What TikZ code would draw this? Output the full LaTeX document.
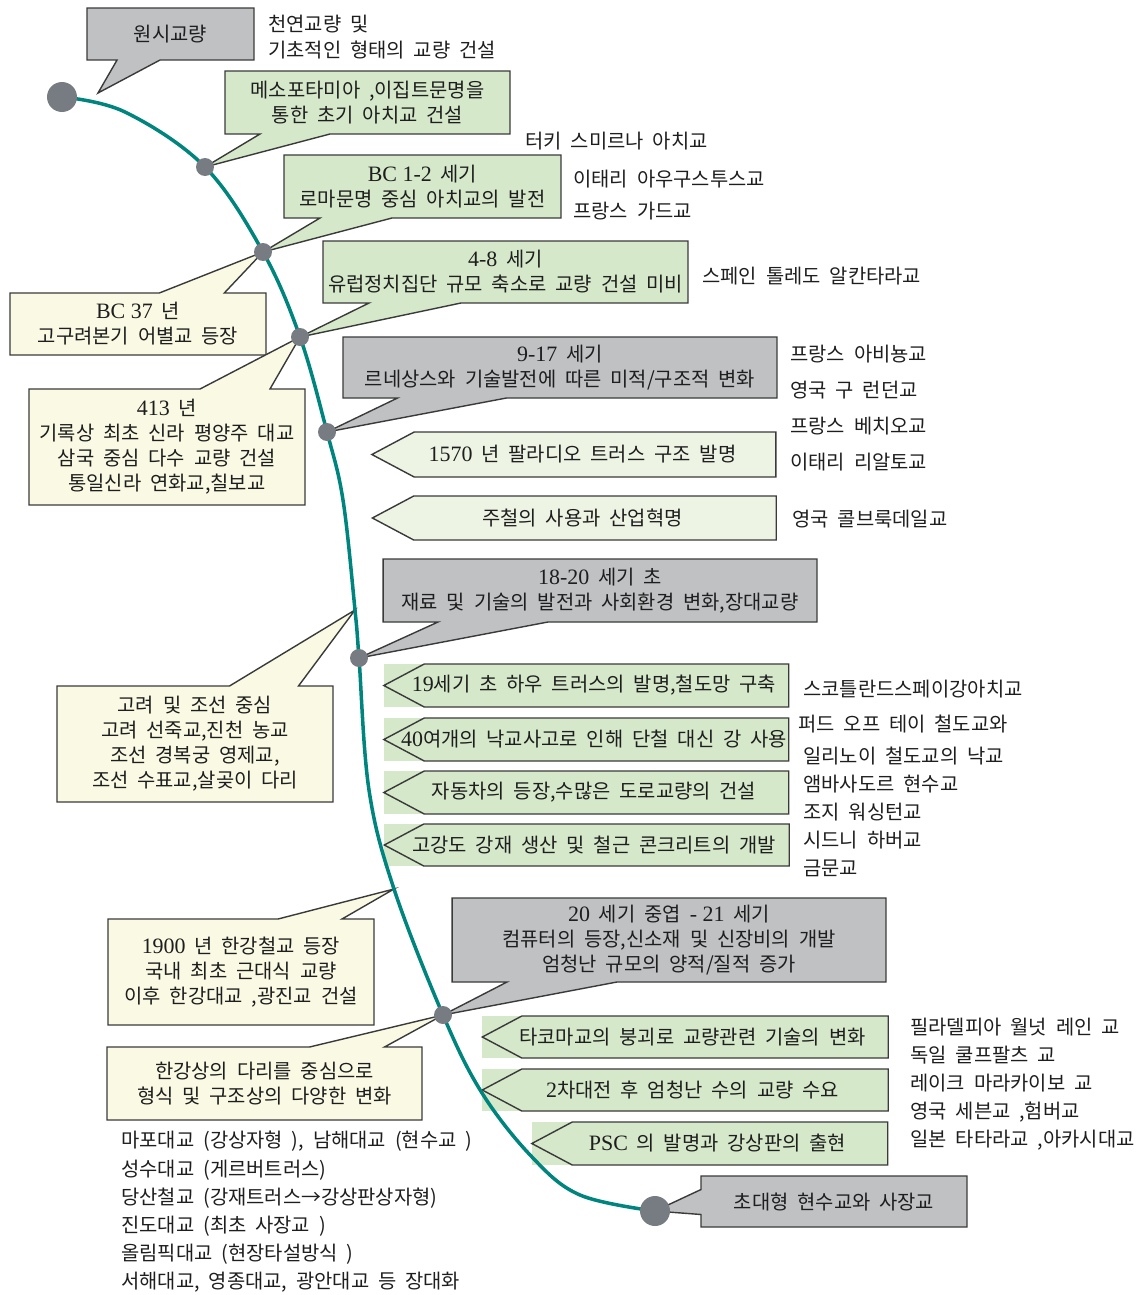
\documentclass[tikz,border=0pt]{standalone}
\usepackage{fontspec}
\setmainfont{Noto Sans CJK KR}[WordSpace=2]
\newfontfamily\latin{Liberation Serif}
\usetikzlibrary{shapes.callouts,shapes.symbols}

\definecolor{tealline}{HTML}{00847E}
\definecolor{dotgray}{HTML}{777C82}
\definecolor{boxgray}{HTML}{BFC1C3}
\definecolor{boxgreen}{HTML}{D5E8CA}
\definecolor{palegreen}{HTML}{EEF4E4}
\definecolor{boxyellow}{HTML}{FAFAE4}
\definecolor{edge}{HTML}{3A3A3A}
\definecolor{ink}{HTML}{1E1E1E}

\newcommand\latn[1]{{\latin\fontsize{12.5}{14.2}\selectfont #1}}
\newcommand\ztext[1]{\makebox[0pt]{\hspace*{-0.5cm}#1}}

\tikzset{
  every node/.style={text=ink, font=\fontsize{11.3}{14.2}\selectfont},
  callbox/.style={rectangle callout, draw=edge, line width=0.8pt, align=center, inner sep=0pt},
  graybox/.style={callbox, fill=boxgray},
  greenbox/.style={callbox, fill=boxgreen},
  yellowbox/.style={callbox, fill=boxyellow},
  banner/.style={signal, signal to=west, signal pointer angle=56, draw=edge, line width=0.8pt, inner sep=0pt},
  strip/.style={rectangle, fill=boxgreen, inner sep=0pt},
  note/.style={anchor=north west, align=left, inner sep=0pt},
  bigdot/.style={circle, fill=dotgray, minimum size=0.6cm, inner sep=0pt},
  smalldot/.style={circle, fill=dotgray, minimum size=0.36cm, inner sep=0pt},
  timeline/.style={draw=tealline, line width=2pt}
}

\begin{document}
\begin{tikzpicture}[x=0.02cm, y=-0.02cm]
    \useasboundingbox (0,0) rectangle (1136,1295);

    % points on the time line
    \coordinate (c0) at (62,97);
    \coordinate (c0a) at (125,112);
    \coordinate (c1) at (205,167);
    \coordinate (c2) at (263,252);
    \coordinate (c3) at (300,337);
    \coordinate (c4) at (327,432);
    \coordinate (c4a) at (343,500);
    \coordinate (c5) at (355,610);
    \coordinate (c6) at (359,658);
    \coordinate (c6a) at (369,790);
    \coordinate (c7) at (394,889);
    \coordinate (c8) at (443,1015);
    \coordinate (c9) at (482,1093);
    \coordinate (c10) at (532,1157);
    \coordinate (c11) at (580,1195);
    \coordinate (c12) at (655,1211);
    \coordinate (p0) at (98,93);

    % callouts
    \node[graybox, minimum width=3.34cm, minimum height=1.04cm, callout absolute pointer={(p0)}, callout pointer width=0.86cm] (n1) at (170.5,34) {원시교량};
    \node[greenbox, minimum width=5.70cm, minimum height=1.26cm, callout absolute pointer={(c1)}, callout pointer width=1.4cm] (n2) at (367.5,102.5) {메소포타미아 ,이집트문명을\\통한 초기 아치교 건설};
    \node[greenbox, minimum width=5.54cm, minimum height=1.26cm, callout absolute pointer={(c2)}, callout pointer width=1.44cm] (n3) at (422.5,186.5) {\latn{BC 1-2} 세기\\로마문명 중심 아치교의 발전};
    \node[greenbox, minimum width=7.30cm, minimum height=1.24cm, callout absolute pointer={(c3)}, callout pointer width=1.84cm] (n4) at (505.5,272) {\latn{4-8} 세기\\유럽정치집단 규모 축소로 교량 건설 미비};
    \node[yellowbox, minimum width=5.12cm, minimum height=1.24cm, callout absolute pointer={(c2)}, callout pointer width=1.3cm] (n5) at (138,324) {\latn{BC 37} 년\\고구려본기 어별교 등장};
    \node[yellowbox, minimum width=5.52cm, minimum height=2.32cm, callout absolute pointer={(c3)}, callout pointer width=1.4cm] (n6) at (167,447) {\latn{413} 년\\기록상 최초 신라 평양주 대교\\삼국 중심 다수 교량 건설\\통일신라 연화교,칠보교};
    \node[graybox, minimum width=8.68cm, minimum height=1.22cm, callout absolute pointer={(c4)}, callout pointer width=2.18cm] (n7) at (560,367.5) {\latn{9-17} 세기\\르네상스와 기술발전에 따른 미적/구조적 변화};
    \node[graybox, minimum width=8.68cm, minimum height=1.26cm, callout absolute pointer={(c6)}, callout pointer width=2.2cm] (n8) at (600,590.5) {\latn{18-20} 세기 초\\재료 및 기술의 발전과 사회환경 변화,장대교량};
    \node[yellowbox, minimum width=5.52cm, minimum height=2.32cm, callout absolute pointer={(c5)}, callout pointer width=1.38cm] (n9) at (195,744) {고려 및 조선 중심\\고려 선죽교,진천 농교\\조선 경복궁 영제교,\\조선 수표교,살곶이 다리};
    \node[yellowbox, minimum width=5.32cm, minimum height=2.12cm, callout absolute pointer={(c7)}, callout pointer width=1.28cm] (n10) at (241,972) {\latn{1900} 년 한강철교 등장\\국내 최초 근대식 교량\\이후 한강대교 ,광진교 건설};
    \node[yellowbox, minimum width=6.30cm, minimum height=1.46cm, callout absolute pointer={(c8)}, callout pointer width=1.5cm] (n11) at (264.5,1083.5) {한강상의 다리를 중심으로\\형식 및 구조상의 다양한 변화};
    \node[graybox, minimum width=8.68cm, minimum height=1.68cm, callout absolute pointer={(c8)}, callout pointer width=2.2cm] (n12) at (669,940) {\latn{20} 세기 중엽 \latn{- 21} 세기\\컴퓨터의 등장,신소재 및 신장비의 개발\\엄청난 규모의 양적/질적 증가};
    \node[graybox, minimum width=5.32cm, minimum height=1.02cm, callout absolute pointer={(c12)}, callout pointer width=0.5cm] (n13) at (834,1201.5) {초대형 현수교와 사장교};

    % banners
    \node[banner, fill=palegreen, minimum width=8.08cm, minimum height=0.9cm] (b1) at (595,454.5) {\ztext{\latn{1570} 년 팔라디오 트러스 구조 발명}};
    \node[banner, fill=palegreen, minimum width=8.08cm, minimum height=0.88cm] (b2) at (595,518) {\ztext{주철의 사용과 산업혁명}};
    \node[strip, minimum width=8.10cm, minimum height=0.86cm] (s3) at (586.5,685.5) {};
    \node[banner, fill=boxgreen, minimum width=8.10cm, minimum height=0.86cm] (b3) at (606.5,685.5) {\ztext{\latn{19}세기 초 하우 트러스의 발명,철도망 구축}};
    \node[strip, minimum width=8.10cm, minimum height=0.86cm] (s4) at (586.5,739.5) {};
    \node[banner, fill=boxgreen, minimum width=8.10cm, minimum height=0.86cm] (b4) at (606.5,739.5) {\ztext{\latn{40}여개의 낙교사고로 인해 단철 대신 강 사용}};
    \node[strip, minimum width=8.10cm, minimum height=0.86cm] (s5) at (586.5,792.5) {};
    \node[banner, fill=boxgreen, minimum width=8.10cm, minimum height=0.86cm] (b5) at (606.5,792.5) {\ztext{자동차의 등장,수많은 도로교량의 건설}};
    \node[strip, minimum width=8.10cm, minimum height=0.84cm] (s6) at (586.5,845) {};
    \node[banner, fill=boxgreen, minimum width=8.10cm, minimum height=0.84cm] (b6) at (606.5,845) {\ztext{고강도 강재 생산 및 철근 콘크리트의 개발}};
    \node[strip, minimum width=8.12cm, minimum height=0.84cm] (s7) at (685,1037) {};
    \node[banner, fill=boxgreen, minimum width=8.12cm, minimum height=0.84cm] (b7) at (705,1037) {\ztext{타코마교의 붕괴로 교량관련 기술의 변화}};
    \node[strip, minimum width=8.12cm, minimum height=0.84cm] (s8) at (685,1090) {};
    \node[banner, fill=boxgreen, minimum width=8.12cm, minimum height=0.84cm] (b8) at (705,1090) {\ztext{\latn{2}차대전 후 엄청난 수의 교량 수요}};
    \node[strip, minimum width=7.12cm, minimum height=0.86cm] (s9) at (710,1143.5) {};
    \node[banner, fill=boxgreen, minimum width=7.12cm, minimum height=0.86cm] (b9) at (730,1143.5) {\ztext{\latn{PSC} 의 발명과 강상판의 출현}};

    % examples beside the boxes
    \node[note, font=\fontsize{11.3}{14.7}\selectfont] (t1) at (268,15) {천연교량 및\\기초적인 형태의 교량 건설};
    \node[note] (t2) at (525,132) {터키 스미르나 아치교};
    \node[note, font=\fontsize{11.3}{18.1}\selectfont] (t3) at (573,170) {이태리 아우구스투스교\\프랑스 가드교};
    \node[note] (t4) at (702,267) {스페인 톨레도 알칸타라교};
    \node[note, font=\fontsize{11.3}{20.4}\selectfont] (t5) at (790,345) {프랑스 아비뇽교\\영국 구 런던교\\프랑스 베치오교\\이태리 리알토교};
    \node[note] (t6) at (792,510) {영국 콜브룩데일교};
    \node[note] (t7) at (803,680) {스코틀란드스페이강아치교};
    \node[note] (t8) at (798,715) {퍼드 오프 테이 철도교와};
    \node[note, font=\fontsize{11.3}{15.9}\selectfont] (t9) at (803,747) {일리노이 철도교의 낙교\\앰바사도르 현수교\\조지 워싱턴교\\시드니 하버교\\금문교};
    \node[note, font=\fontsize{11.3}{15.9}\selectfont] (t10) at (910,1018) {필라델피아 월넛 레인 교\\독일 쿨프팔츠 교\\레이크 마라카이보 교\\영국 세븐교 ,험버교\\일본 타타라교 ,아카시대교};
    \node[note, font=\fontsize{11.3}{16}\selectfont] (t11) at (121,1131) {마포대교 (강상자형 ), 남해대교 (현수교 )\\성수대교 (게르버트러스)\\당산철교 (강재트러스→강상판상자형)\\진도대교 (최초 사장교 )\\올림픽대교 (현장타설방식 )\\서해대교, 영종대교, 광안대교 등 장대화};

    % time line
    \draw[timeline] plot[smooth, tension=0.6] coordinates {(c0) (c0a) (c1) (c2) (c3) (c4) (c4a) (c5) (c6) (c6a) (c7) (c8) (c9) (c10) (c11) (c12)};

    \node[bigdot] (d0) at (c0) {};
    \node[smalldot] (d1) at (c1) {};
    \node[smalldot] (d2) at (c2) {};
    \node[smalldot] (d3) at (c3) {};
    \node[smalldot] (d4) at (c4) {};
    \node[smalldot] (d6) at (c6) {};
    \node[smalldot] (d8) at (c8) {};
    \node[bigdot] (d12) at (c12) {};
\end{tikzpicture}
\end{document}
